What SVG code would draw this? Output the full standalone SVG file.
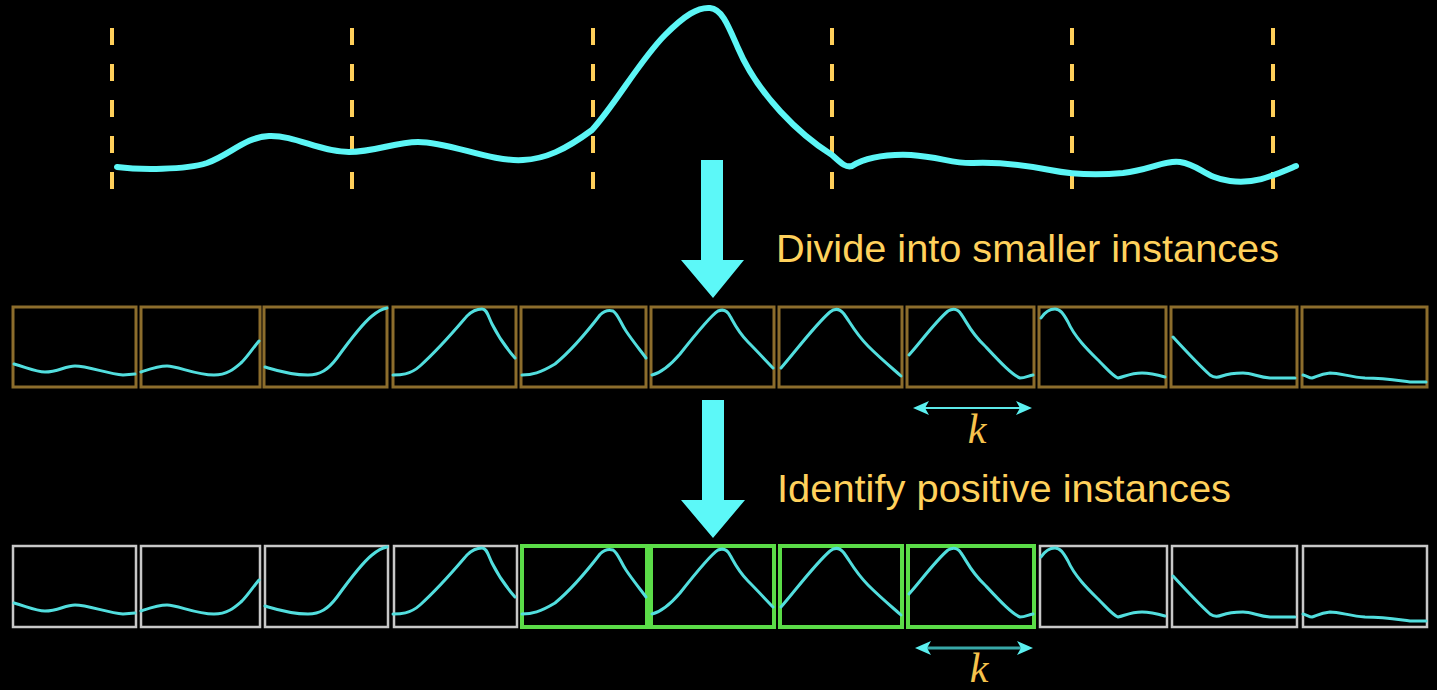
<svg xmlns="http://www.w3.org/2000/svg" xmlns:xlink="http://www.w3.org/1999/xlink" width="1437" height="690" viewBox="0 0 1437 690">
<style>
.sig{fill:none;stroke:#5CF6F6;stroke-width:6;stroke-linecap:round;stroke-linejoin:round}
.dash{stroke:#FFCF5A;stroke-width:4;stroke-dasharray:17 19}
.mini{fill:none;stroke:#52DEDE;stroke-width:3;stroke-linecap:round;stroke-linejoin:round}
.b1{fill:none;stroke:#8C6D2C;stroke-width:3}
.b2{fill:none;stroke:#C8C8C8;stroke-width:2.5}
.bg{fill:none;stroke:#5BDC48;stroke-width:4}
.lbl{font-family:"Liberation Sans",Arial,sans-serif;font-size:39.5px;fill:#FFD15C}
.k{font-family:"Liberation Serif","Times New Roman",serif;font-style:italic;font-size:42px;fill:#F5C24C}
.big{fill:#5CF8F8}
.head{fill:#5CF0F0}
</style>
<defs>
<g id="curves" class="mini">
<path d="M14,364 C28,368 36,372 45,372 C58,372 65,366 75,366 C88,366 108,374 123,375 L135,374"/>
<path d="M141,372 C150,369 158,366 167,366 C178,366 195,375 214,375 C228,375 235,368 242,362 C248,356 253,348 259,341"/>
<path d="M265,367 C275,370 290,375 308,375 C320,375 328,370 337,358 C350,340 362,324 372,316 C378,311 382,309 387,308"/>
<path d="M393,375 C400,375 410,375 420,366 C440,348 455,330 467,316 C473,310 478,309 482,309 C487,309 488,316 492,324 C498,336 508,350 515,358"/>
<path d="M522,375 C532,375 540,373 555,364 C572,350 590,328 600,315 C605,310 610,310 613,311 C618,314 620,322 626,331 C632,340 640,350 646,358"/>
<path d="M652,375 C660,373 668,368 680,354 C695,335 710,316 718,311 C723,309 727,310 730,316 C735,325 738,332 748,342 C758,352 768,363 773,368"/>
<path d="M781,368 C795,352 815,325 830,312 C835,308 840,309 844,314 C850,322 855,333 868,346 C880,358 892,368 901,376"/>
<path d="M909,355 C920,343 935,322 948,311 C953,308 958,309 961,314 C967,322 970,332 985,346 C1000,362 1012,375 1020,378 C1025,378 1028,376 1033,375"/>
<path d="M1041,318 C1045,312 1050,309 1055,309 C1060,309 1063,313 1068,322 C1075,338 1090,352 1100,362 C1108,370 1114,377 1118,378 C1124,377 1130,373 1142,373 C1150,373 1158,375 1165,377"/>
<path d="M1173,337 C1185,350 1200,366 1210,375 C1214,378 1217,378 1222,376 C1230,373 1236,373 1243,373 C1252,373 1258,377 1270,378 L1295,378"/>
<path d="M1303,375 C1307,376 1309,378 1312,378 C1316,377 1320,374 1330,373 C1340,373 1350,377 1365,378 C1385,378 1395,380 1410,382 L1426,382"/>
</g>
</defs>
<rect x="0" y="0" width="1437" height="690" fill="#000"/>

<g id="signal">
<line class="dash" x1="112" y1="28" x2="112" y2="190"/>
<line class="dash" x1="352" y1="28" x2="352" y2="190"/>
<line class="dash" x1="593" y1="28" x2="593" y2="190"/>
<line class="dash" x1="832" y1="28" x2="832" y2="190"/>
<line class="dash" x1="1072" y1="28" x2="1072" y2="190"/>
<line class="dash" x1="1273" y1="28" x2="1273" y2="190"/>
<path class="sig" d="M117,167 C140,170 185,170 207,163 C230,155 245,137 269,136 C295,135 320,152 349,152 C375,152 395,142 418,142 C450,142 490,162 523,160 C545,159 565,150 592,130 C615,105 640,60 665,35 C685,15 698,7 710,8 C722,9 728,25 738,48 C758,95 800,135 832,155 C840,162 845,168 852,166 C865,158 885,154 911,155 C940,157 955,164 973,163 C1000,162 1030,166 1050,170 C1075,175 1100,175 1123,173 C1150,170 1165,160 1180,162 C1200,165 1205,178 1230,181 C1255,184 1270,177 1296,166"/>
</g>

<g id="row1">
<rect class="b1" x="13" y="307" width="123" height="80"/>
<rect class="b1" x="141" y="307" width="119" height="80"/>
<rect class="b1" x="264" y="307" width="123" height="80"/>
<rect class="b1" x="393" y="307" width="123" height="80"/>
<rect class="b1" x="521" y="307" width="125" height="80"/>
<rect class="b1" x="651" y="307" width="123" height="80"/>
<rect class="b1" x="779" y="307" width="123" height="80"/>
<rect class="b1" x="907" y="307" width="127" height="80"/>
<rect class="b1" x="1039" y="307" width="127" height="80"/>
<rect class="b1" x="1171" y="307" width="126" height="80"/>
<rect class="b1" x="1302" y="307" width="125" height="80"/>
<use xlink:href="#curves" href="#curves"/>
</g>

<g id="row2">
<rect class="b2" x="13" y="546" width="123" height="81"/>
<rect class="b2" x="141" y="546" width="119" height="81"/>
<rect class="b2" x="265" y="546" width="123" height="81"/>
<rect class="b2" x="394" y="546" width="123" height="81"/>
<rect class="bg" x="522" y="546" width="125" height="81"/>
<rect class="bg" x="651" y="546" width="123" height="81"/>
<rect class="bg" x="780" y="546" width="122" height="81"/>
<rect class="bg" x="908" y="546" width="126" height="81"/>
<rect class="b2" x="1040" y="546" width="127" height="81"/>
<rect class="b2" x="1172" y="546" width="125" height="81"/>
<rect class="b2" x="1303" y="546" width="124" height="81"/>
<use xlink:href="#curves" href="#curves" transform="translate(0,239)"/>
</g>

<g id="label-divide"><text class="lbl" x="776" y="262" textLength="503" lengthAdjust="spacingAndGlyphs">Divide into smaller instances</text></g>
<g id="label-identify"><text class="lbl" x="777" y="502" textLength="454" lengthAdjust="spacingAndGlyphs">Identify positive instances</text></g>
<g id="label-k1"><text class="k" x="977" y="443" text-anchor="middle">k</text></g>
<g id="label-k2"><text class="k" x="979" y="682" text-anchor="middle">k</text></g>

<g id="connectors">
<path class="big" d="M701,160 L723,160 L723,260 L744,260 L713,298 L681,260 L701,260 Z"/>
<path class="big" d="M702,400 L724,400 L724,500 L745,500 L713,538 L681,500 L702,500 Z"/>
<line x1="922" y1="408" x2="1023" y2="408" stroke="#5CE8E8" stroke-width="2"/>
<path class="head" d="M913,408 L929,401 L925,408 L929,415 Z"/>
<path class="head" d="M1032,408 L1016,401 L1020,408 L1016,415 Z"/>
<line x1="924" y1="648" x2="1024" y2="648" stroke="#38A8A8" stroke-width="3"/>
<path class="head" d="M915,648 L931,641 L927,648 L931,655 Z"/>
<path class="head" d="M1033,648 L1017,641 L1021,648 L1017,655 Z"/>
</g>
</svg>
